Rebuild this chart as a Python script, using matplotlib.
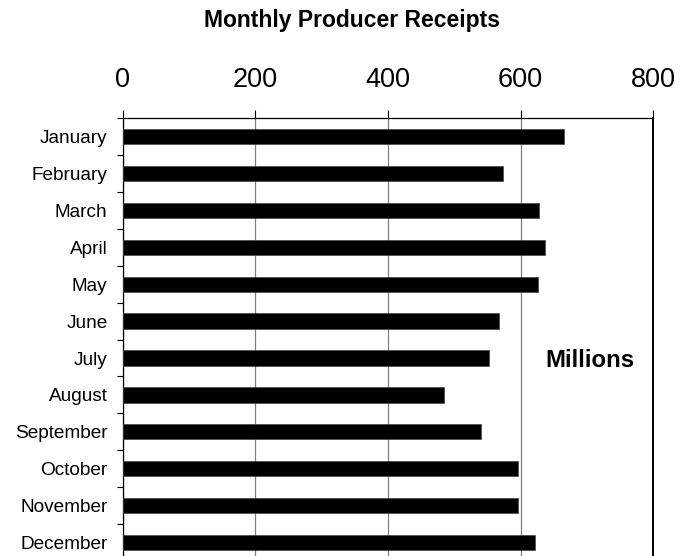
import numpy as np
import matplotlib.pyplot as plt
from matplotlib.ticker import FixedLocator

plt.rcParams['font.family'] = ['Liberation Sans', 'DejaVu Sans']

# data (millions)
months = ["January", "February", "March", "April", "May", "June",
          "July", "August", "September", "October", "November", "December"]
receipts = [666, 574, 628, 637, 626, 568, 553, 485, 540, 596, 596, 622]
xticks = [0, 200, 400, 600, 800]

fig = plt.figure(figsize=(6.83, 5.56), dpi=100)
ax = fig.add_axes([0.1797, -0.0087, 0.7768, 0.7959])

y = np.arange(len(months))
ax.barh(y, receipts, height=0.415, color="black", edgecolor="#444444", linewidth=0.5, zorder=3)

ax.set_xlim(0, 800)
ax.set_ylim(len(months) - 0.5, -0.5)

# x axis on top
ax.xaxis.tick_top()
ax.set_xticks(xticks)
ax.set_xticklabels([str(t) for t in xticks], fontsize=19.5)
ax.tick_params(axis="x", direction="out", length=5.8, width=0.8, pad=12.5, color="black")
ax.grid(axis="x", color="#808080", linewidth=0.9, zorder=1)

# y axis: labels at bars, ticks between categories
ax.set_yticks(y)
ax.set_yticklabels(months, fontsize=13.7)
ax.tick_params(axis="y", which="major", length=0, pad=11)
ax.yaxis.set_minor_locator(FixedLocator(np.arange(-0.5, len(months), 1.0)))
ax.tick_params(axis="y", which="minor", direction="out", length=4.3, width=0.8, color="black")

ax.spines["bottom"].set_visible(False)
ax.spines["left"].set_linewidth(0.9)
ax.spines["top"].set_linewidth(0.9)
ax.spines["right"].set_linewidth(1.4)

ax.text(0.8807, 0.4522, "Millions", transform=ax.transAxes, fontsize=17.3,
        fontweight="bold", ha="center", va="center")

fig.text(0.5154, 1 - 20.5 / 556, "Monthly Producer Receipts", fontsize=16.5,
         fontweight="bold", ha="center", va="center")

fig.savefig("out.png", dpi=100)
